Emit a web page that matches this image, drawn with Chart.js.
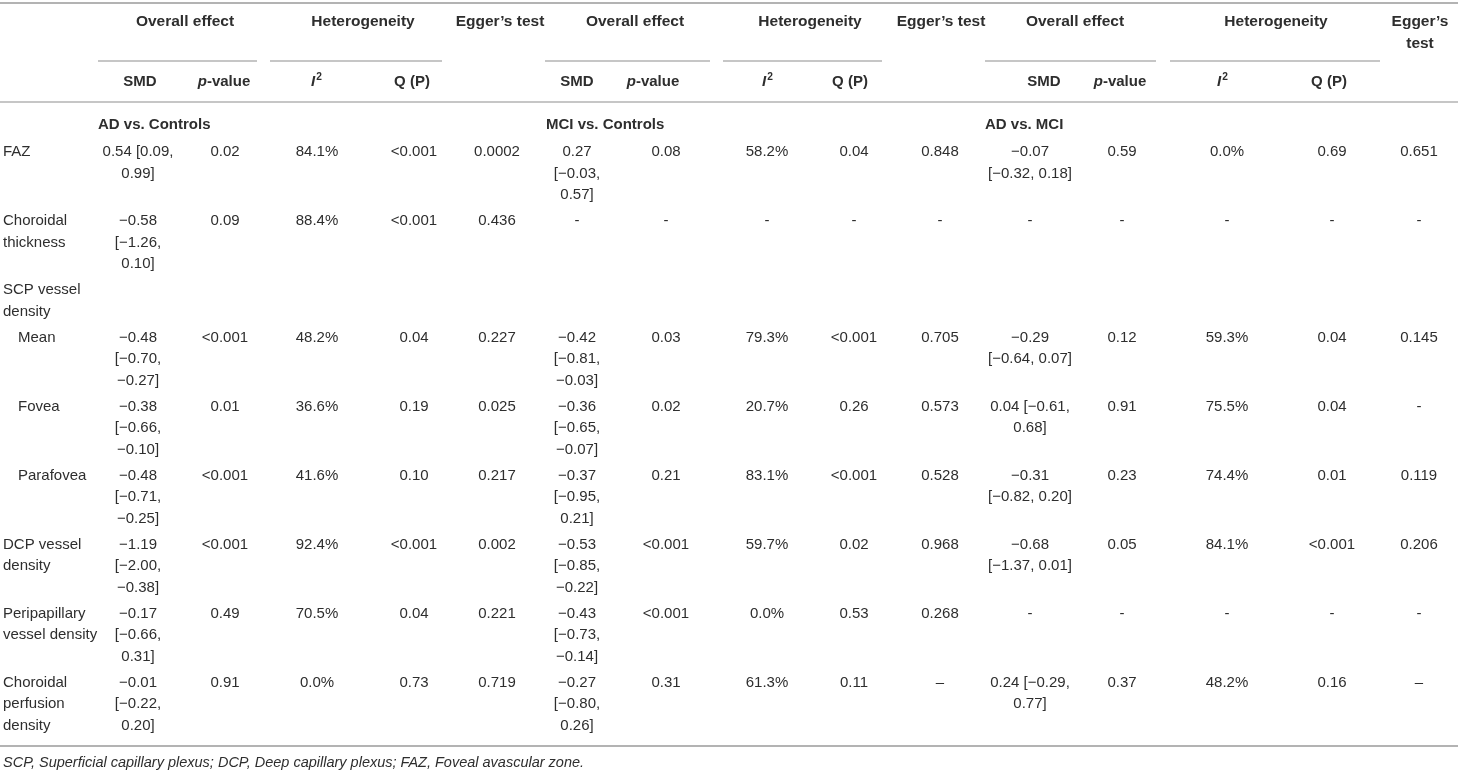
<!DOCTYPE html>
<html>
<head>
<meta charset="utf-8">
<title>OCTA meta-analysis table</title>
<script src="https://cdn.jsdelivr.net/npm/chart.js@4.4.1/dist/chart.umd.min.js"></script>
<style>
  html, body { margin: 0; padding: 0; background: #fff; }
  #wrap { position: relative; width: 1458px; height: 773px; }
</style>
</head>
<body>
<div id="wrap"><canvas id="tableChart"></canvas></div>
<script>
  var rowLabels = [
    ["FAZ"], ["Choroidal", "thickness"], ["SCP vessel", "density"],
    ["Mean"], ["Fovea"], ["Parafovea"], ["DCP vessel", "density"],
    ["Peripapillary", "vessel density"], ["Choroidal", "perfusion", "density"]
  ];
  var indentedRows = [3, 4, 5];
  var groupLabels = ["AD vs. Controls", "MCI vs. Controls", "AD vs. MCI"];

  var adCtrlSMD = [["0.54 [0.09,", "0.99]"], ["\u22120.58", "[\u22121.26,", "0.10]"], null,
    ["\u22120.48", "[\u22120.70,", "\u22120.27]"], ["\u22120.38", "[\u22120.66,", "\u22120.10]"],
    ["\u22120.48", "[\u22120.71,", "\u22120.25]"], ["\u22121.19", "[\u22122.00,", "\u22120.38]"],
    ["\u22120.17", "[\u22120.66,", "0.31]"], ["\u22120.01", "[\u22120.22,", "0.20]"]];
  var adCtrlP = ["0.02", "0.09", "", "<0.001", "0.01", "<0.001", "<0.001", "0.49", "0.91"];
  var adCtrlI2 = ["84.1%", "88.4%", "", "48.2%", "36.6%", "41.6%", "92.4%", "70.5%", "0.0%"];
  var adCtrlQ = ["<0.001", "<0.001", "", "0.04", "0.19", "0.10", "<0.001", "0.04", "0.73"];
  var adCtrlEgger = ["0.0002", "0.436", "", "0.227", "0.025", "0.217", "0.002", "0.221", "0.719"];

  var mciCtrlSMD = [["0.27", "[\u22120.03,", "0.57]"], ["-"], null,
    ["\u22120.42", "[\u22120.81,", "\u22120.03]"], ["\u22120.36", "[\u22120.65,", "\u22120.07]"],
    ["\u22120.37", "[\u22120.95,", "0.21]"], ["\u22120.53", "[\u22120.85,", "\u22120.22]"],
    ["\u22120.43", "[\u22120.73,", "\u22120.14]"], ["\u22120.27", "[\u22120.80,", "0.26]"]];
  var mciCtrlP = ["0.08", "-", "", "0.03", "0.02", "0.21", "<0.001", "<0.001", "0.31"];
  var mciCtrlI2 = ["58.2%", "-", "", "79.3%", "20.7%", "83.1%", "59.7%", "0.0%", "61.3%"];
  var mciCtrlQ = ["0.04", "-", "", "<0.001", "0.26", "<0.001", "0.02", "0.53", "0.11"];
  var mciCtrlEgger = ["0.848", "-", "", "0.705", "0.573", "0.528", "0.968", "0.268", "\u2013"];

  var adMciSMD = [["\u22120.07", "[\u22120.32, 0.18]"], ["-"], null,
    ["\u22120.29", "[\u22120.64, 0.07]"], ["0.04 [\u22120.61,", "0.68]"],
    ["\u22120.31", "[\u22120.82, 0.20]"], ["\u22120.68", "[\u22121.37, 0.01]"],
    ["-"], ["0.24 [\u22120.29,", "0.77]"]];
  var adMciP = ["0.59", "-", "", "0.12", "0.91", "0.23", "0.05", "-", "0.37"];
  var adMciI2 = ["0.0%", "-", "", "59.3%", "75.5%", "74.4%", "84.1%", "-", "48.2%"];
  var adMciQ = ["0.69", "-", "", "0.04", "0.04", "0.01", "<0.001", "-", "0.16"];
  var adMciEgger = ["0.651", "-", "", "0.145", "-", "0.119", "0.206", "-", "\u2013"];

  var groupHeaders = ["Overall effect", "Heterogeneity", "Egger\u2019s test"];
  var footnote = "SCP, Superficial capillary plexus; DCP, Deep capillary plexus; FAZ, Foveal avascular zone.";

  // ---- layout (pixels in the 1458 x 773 frame) ----
  var W = 1458, H = 773;
  var FONT = '"Liberation Sans", Arial, Helvetica, sans-serif';
  var SIZE = 15, LINE_H = 21.5;
  var TEXT = "#2e2e2e", RULE = "#b3b3b3";
  var labelX = 3, indentX = 18;
  var colX = [[138, 225, 317, 414, 497], [577, 666, 767, 854, 940], [1030, 1122, 1227, 1332, 1419]];
  var subHeadX = [[140, 224, 316, 412], [577, 653, 767, 850], [1044, 1120, 1222, 1329]];
  var groupHeadX = [[185, 363, 500], [635, 810, 941], [1075, 1276, 1420]];
  var groupLabelX = [98, 546, 985];
  var underlines = [[98, 257], [270, 442], [545, 710], [723, 882], [985, 1156], [1170, 1380]];

  var comparisons = [
    [adCtrlSMD, adCtrlP, adCtrlI2, adCtrlQ, adCtrlEgger],
    [mciCtrlSMD, mciCtrlP, mciCtrlI2, mciCtrlQ, mciCtrlEgger],
    [adMciSMD, adMciP, adMciI2, adMciQ, adMciEgger]
  ];

  // row positions follow from how many lines each row needs
  var rowY = [];
  var y = 152;
  rowLabels.forEach(function (lab, r) {
    rowY.push(y);
    var n = lab.length;
    comparisons.forEach(function (cmp) {
      if (cmp[0][r]) n = Math.max(n, cmp[0][r].length);
    });
    y += n * LINE_H + 4.5;
  });

  // ---- cells as points ----
  var bodyCells = [];
  rowLabels.forEach(function (lab, r) {
    var ind = indentedRows.indexOf(r) >= 0;
    bodyCells.push({ x: ind ? indentX : labelX, y: rowY[r], lines: lab, align: "left" });
    comparisons.forEach(function (cmp, k) {
      cmp.forEach(function (col, c) {
        var v = col[r];
        if (!v) return;
        bodyCells.push({ x: colX[k][c], y: rowY[r], lines: Array.isArray(v) ? v : [v], align: "center" });
      });
    });
  });

  var headCells = [];
  groupLabels.forEach(function (g, k) {
    headCells.push({ x: groupLabelX[k], y: 125, lines: [g], align: "left", bold: true });
    groupHeaders.forEach(function (h, j) {
      var lines = (k === 2 && j === 2) ? ["Egger\u2019s", "test"] : [h];
      headCells.push({ x: groupHeadX[k][j], y: 22, lines: lines, align: "center", bold: true, size: 15.5 });
    });
    var subs = [[{ t: "SMD" }], [{ t: "p", it: true }, { t: "-value" }],
                [{ t: "I", it: true }, { t: "2", sup: true }], [{ t: "Q (P)" }]];
    subs.forEach(function (parts, j) {
      headCells.push({ x: subHeadX[k][j], y: 82, parts: parts, align: "center", bold: true });
    });
  });
  var noteCells = [{ x: labelX, y: 763, lines: [footnote], align: "left", italic: true, size: 14.5 }];

  function fontOf(bold, italic, size) {
    return (italic ? "italic " : "") + (bold ? "bold " : "") + size + "px " + FONT;
  }

  function drawParts(ctx, parts, x, y, align, bold, size) {
    var widths = parts.map(function (p) {
      ctx.font = fontOf(bold, p.it, p.sup ? size * 0.68 : size);
      return ctx.measureText(p.t).width;
    });
    var total = widths.reduce(function (a, b) { return a + b; }, 0);
    var cx = align === "center" ? x - total / 2 : x;
    parts.forEach(function (p, i) {
      ctx.font = fontOf(bold, p.it, p.sup ? size * 0.68 : size);
      ctx.textAlign = "left";
      ctx.fillText(p.t, cx, p.sup ? y - size * 0.33 : y);
      cx += widths[i] + (p.it && parts[i + 1] && parts[i + 1].sup ? 1 : 0);
    });
  }

  var tablePlugin = {
    id: "tableText",
    beforeDatasetsDraw: function (chart) {
      var ctx = chart.ctx, xs = chart.scales.x, ys = chart.scales.y;
      ctx.save();
      ctx.strokeStyle = RULE;
      function hline(x0, x1, yy, w) {
        ctx.lineWidth = w;
        ctx.beginPath();
        ctx.moveTo(xs.getPixelForValue(x0), ys.getPixelForValue(yy));
        ctx.lineTo(xs.getPixelForValue(x1), ys.getPixelForValue(yy));
        ctx.stroke();
      }
      hline(0, W, 3, 2);
      hline(0, W, 102, 1.5);
      hline(0, W, 746, 2);
      underlines.forEach(function (u) { hline(u[0], u[1], 61, 1.5); });
      ctx.restore();
    },
    afterDatasetsDraw: function (chart) {
      var ctx = chart.ctx, ys = chart.scales.y;
      ctx.save();
      ctx.fillStyle = TEXT;
      ctx.textBaseline = "middle";
      chart.data.datasets.forEach(function (ds, di) {
        var meta = chart.getDatasetMeta(di);
        meta.data.forEach(function (el, i) {
          var cell = ds.data[i];
          var size = cell.size || SIZE;
          if (cell.parts) {
            drawParts(ctx, cell.parts, el.x, el.y, cell.align, cell.bold, size);
            return;
          }
          ctx.font = fontOf(cell.bold, cell.italic, size);
          ctx.textAlign = cell.align;
          cell.lines.forEach(function (line, li) {
            ctx.fillText(line, el.x, ys.getPixelForValue(cell.y + li * LINE_H));
          });
        });
      });
      ctx.restore();
    }
  };

  new Chart(document.getElementById("tableChart"), {
    type: "scatter",
    data: {
      datasets: [
        { label: "body", data: bodyCells, pointRadius: 0, pointHoverRadius: 0 },
        { label: "head", data: headCells, pointRadius: 0, pointHoverRadius: 0 },
        { label: "note", data: noteCells, pointRadius: 0, pointHoverRadius: 0 }
      ]
    },
    options: {
      responsive: true,
      maintainAspectRatio: false,
      animation: false,
      layout: { padding: 0 },
      events: [],
      plugins: { legend: { display: false }, tooltip: { enabled: false } },
      scales: {
        x: { type: "linear", min: 0, max: W, display: false },
        y: { type: "linear", min: 0, max: H, reverse: true, display: false }
      }
    },
    plugins: [tablePlugin]
  });
</script>
</body>
</html>
